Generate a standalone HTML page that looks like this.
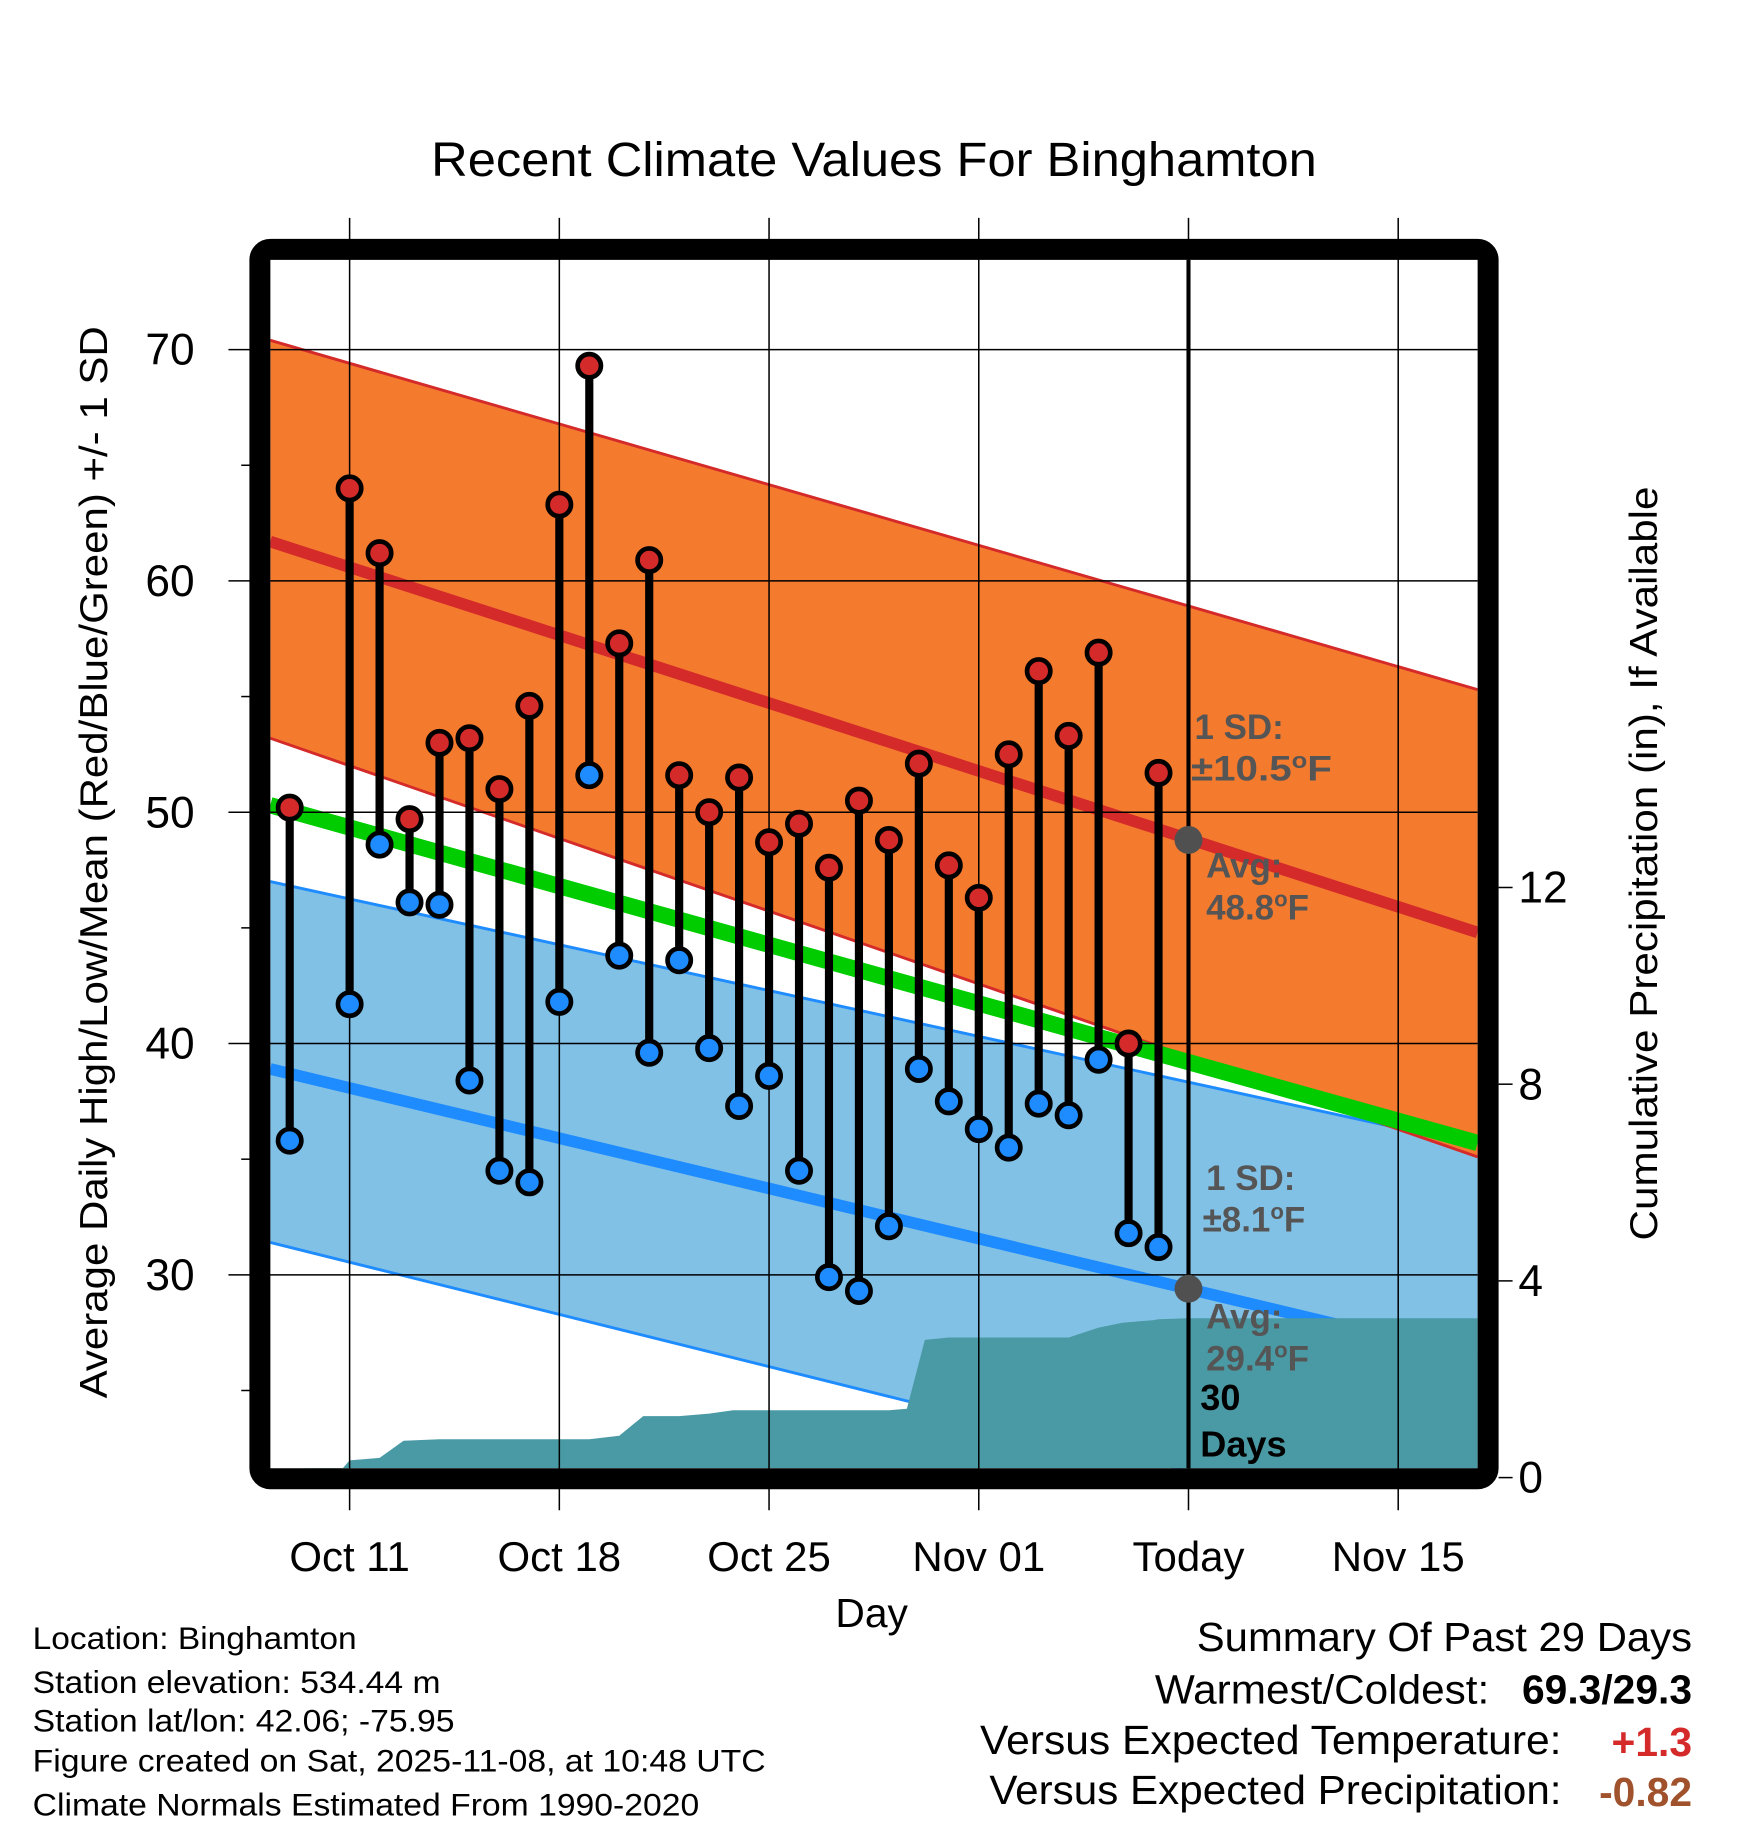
<!DOCTYPE html>
<html><head><meta charset="utf-8"><style>
html,body{margin:0;padding:0;background:#fff}
svg{display:block}
text{font-family:"Liberation Sans",sans-serif}
</style></head><body>
<svg id="chart" xmlns="http://www.w3.org/2000/svg" width="1748" height="1828" viewBox="0 0 1500 1568.7">
<text x="370" y="151" font-size="41" textLength="760" lengthAdjust="spacingAndGlyphs">Recent Climate Values For Binghamton</text>
<g id="bands"></g>
<g id="precip"></g>
<g id="grid"></g>
<g id="marks"></g>
<g id="ann">
<text x="1025" y="634" font-size="30" font-weight="bold" fill="#555">1 SD:</text>
<text x="1022" y="670" font-size="30" font-weight="bold" fill="#555" textLength="121" lengthAdjust="spacingAndGlyphs">±10.5<tspan dy="-11" font-size="19">o</tspan><tspan dy="11">F</tspan></text>
<text x="1035" y="753" font-size="30" font-weight="bold" fill="#555">Avg:</text>
<text x="1035" y="789" font-size="30" font-weight="bold" fill="#555">48.8<tspan dy="-11" font-size="19">o</tspan><tspan dy="11">F</tspan></text>
<text x="1035" y="1021" font-size="30" font-weight="bold" fill="#555">1 SD:</text>
<text x="1032" y="1057" font-size="30" font-weight="bold" fill="#555">±8.1<tspan dy="-11" font-size="19">o</tspan><tspan dy="11">F</tspan></text>
<text x="1035" y="1140" font-size="30" font-weight="bold" fill="#555">Avg:</text>
<text x="1035" y="1176" font-size="30" font-weight="bold" fill="#555">29.4<tspan dy="-11" font-size="19">o</tspan><tspan dy="11">F</tspan></text>
<text x="1030" y="1210" font-size="31" font-weight="bold" fill="#000">30</text>
<text x="1030" y="1250" font-size="31" font-weight="bold" fill="#000">Days</text>
</g>
<rect x="223" y="214" width="1054" height="1055" rx="9" fill="none" stroke="#000" stroke-width="18"/>
<g id="axes"></g>
<text transform="translate(92,740) rotate(-90)" font-size="33" text-anchor="middle" textLength="920" lengthAdjust="spacingAndGlyphs">Average Daily High/Low/Mean (Red/Blue/Green) +/- 1 SD</text>
<text transform="translate(1422,741) rotate(-90)" font-size="33" text-anchor="middle" textLength="647" lengthAdjust="spacingAndGlyphs">Cumulative Precipitation (in), If Available</text>
<text x="748" y="1396" font-size="35" text-anchor="middle">Day</text>
<g font-size="27">
<text x="28" y="1415" textLength="278" lengthAdjust="spacingAndGlyphs">Location: Binghamton</text>
<text x="28" y="1453" textLength="350" lengthAdjust="spacingAndGlyphs">Station elevation: 534.44 m</text>
<text x="28" y="1486" textLength="362" lengthAdjust="spacingAndGlyphs">Station lat/lon: 42.06; -75.95</text>
<text x="28" y="1520" textLength="629" lengthAdjust="spacingAndGlyphs">Figure created on Sat, 2025-11-08, at 10:48 UTC</text>
<text x="28" y="1558" textLength="572" lengthAdjust="spacingAndGlyphs">Climate Normals Estimated From 1990-2020</text>
</g>
<g font-size="35">
<text x="1027" y="1417" textLength="425" lengthAdjust="spacingAndGlyphs">Summary Of Past 29 Days</text>
<text x="991" y="1462" textLength="287" lengthAdjust="spacingAndGlyphs">Warmest/Coldest:</text>
<text x="1452" y="1462" text-anchor="end" font-weight="bold">69.3/29.3</text>
<text x="841" y="1505" textLength="499" lengthAdjust="spacingAndGlyphs">Versus Expected Temperature:</text>
<text x="1452" y="1507" text-anchor="end" font-weight="bold" fill="#d42a2a">+1.3</text>
<text x="849" y="1548" textLength="491" lengthAdjust="spacingAndGlyphs">Versus Expected Precipitation:</text>
<text x="1452" y="1550" text-anchor="end" font-weight="bold" fill="#a0522d">-0.82</text>
</g>
</svg>
<script>
// day offsets from Oct 11
const pointDays = [-2,0,1,2,3,4,5,6,7,8,9,10,11,12,13,14,15,16,17,18,19,20,21,22,23,24,25,26,27];
const highs = [50.2,64.0,61.2,49.7,53.0,53.2,51.0,54.6,63.3,69.3,57.3,60.9,51.6,50.0,51.5,48.7,49.5,47.6,50.5,48.8,52.1,47.7,46.3,52.5,56.1,53.3,56.9,40.0,51.7];
const lows = [35.8,41.7,48.6,46.1,46.0,38.4,34.5,34.0,41.8,51.6,43.8,39.6,43.6,39.8,37.3,38.6,34.5,29.9,29.3,32.1,38.9,37.5,36.3,35.5,37.4,36.9,39.3,31.8,31.2];
const precipDays = [-1.5,-0.5,0,1,1.8,3,8,9,9.8,11,12,12.8,14,18,18.6,19.2,20,24,25,25.8,26.8,27,28,37.65];
const precipVals = [0,0,0.35,0.4,0.75,0.78,0.78,0.85,1.25,1.25,1.3,1.37,1.37,1.37,1.4,2.8,2.85,2.85,3.05,3.15,3.2,3.22,3.24,3.24];
const edgeDays = [-2.65,37.65];
const redMean = [61.7,44.8];
const redUpper = [70.4,55.3];
const redLower = [53.2,35.1];
const greenMean = [50.3,35.7];
const blueMean = [38.9,26.4];
const blueUpper = [47.0,35.6];
const blueLower = [31.4,18.4];
const xTickDays = [0,7,14,21,28,35];
const xTickLabels = ["Oct 11","Oct 18","Oct 25","Nov 01","Today","Nov 15"];
const yTicks = [30,40,50,60,70];
const y2Ticks = [0,4,8,12];
const todayDay = 28, todayHigh = 48.8, todayLow = 29.4;

const NS="http://www.w3.org/2000/svg";
const X0=232,X1=1268,Y0=223,Y1=1260;
const xs=d=>300+25.71*d;
const ys=t=>300+(70-t)*19.85;
const yp=p=>1268-p*42.2;
function mk(tag,attrs,parent){const e=document.createElementNS(NS,tag);for(const k in attrs)e.setAttribute(k,attrs[k]);parent.appendChild(e);return e;}
const clip=mk('clipPath',{id:'pc'},document.getElementById('chart'));
mk('rect',{x:X0,y:Y0,width:X1-X0,height:Y1-Y0},clip);
const bands=document.getElementById('bands');bands.setAttribute('clip-path','url(#pc)');
function band(up,lo,fill,stroke,name){
  const p=`M${xs(edgeDays[0])},${ys(up[0])}L${xs(edgeDays[1])},${ys(up[1])}L${xs(edgeDays[1])},${ys(lo[1])}L${xs(edgeDays[0])},${ys(lo[0])}Z`;
  const e=mk('path',{d:p,fill:fill},bands);
  
  
  [up,lo].forEach(a=>{const l=mk('line',{x1:xs(edgeDays[0]),y1:ys(a[0]),x2:xs(edgeDays[1]),y2:ys(a[1]),stroke:stroke,'stroke-width':2.5},bands);
    
    });
}
band(blueUpper,blueLower,'#82c1e6','#1e8cff','low-sd-band');
band(redUpper,redLower,'#f47a2e','#d42a2a','high-sd-band');
function line(a,color,w,name){const l=mk('line',{x1:xs(edgeDays[0]),y1:ys(a[0]),x2:xs(edgeDays[1]),y2:ys(a[1]),stroke:color,'stroke-width':w},bands);
  
  }
line(redMean,'#d42a2a',10,'high-mean-line');
line(greenMean,'#00cc00',14,'mean-line');
line(blueMean,'#1e8cff',10,'low-mean-line');
const pg=document.getElementById('precip');pg.setAttribute('clip-path','url(#pc)');
let pd=`M${xs(precipDays[0])},${Y1}`;
precipDays.forEach((d,i)=>{pd+=`L${xs(d)},${yp(precipVals[i])}`;});
pd+=`L${xs(precipDays[precipDays.length-1])},${Y1}Z`;
const pe=mk('path',{d:pd,fill:'#4a9aa5'},pg);


const g=document.getElementById('grid');
xTickDays.forEach(d=>{const l=mk('line',{x1:xs(d),y1:187,x2:xs(d),y2:1296,stroke:'#000','stroke-width':1.3},g);
  
  });
yTicks.forEach(t=>{const l=mk('line',{x1:196,y1:ys(t),x2:X1,y2:ys(t),stroke:'#000','stroke-width':1.3},g);
  
  });
[25,35,45,55,65].forEach(t=>{const l=mk('line',{x1:207,y1:ys(t),x2:215,y2:ys(t),stroke:'#000','stroke-width':1.3},g);
  
  });
const tl=mk('line',{x1:xs(todayDay),y1:Y0,x2:xs(todayDay),y2:Y1,stroke:'#000','stroke-width':3.5},g);


const m=document.getElementById('marks');
pointDays.forEach((d,i)=>{
  const s=mk('line',{x1:xs(d),y1:ys(highs[i]),x2:xs(d),y2:ys(lows[i]),stroke:'#000','stroke-width':7},m);
  
  
});
pointDays.forEach((d,i)=>{
  const h=mk('circle',{cx:xs(d),cy:ys(highs[i]),r:10,fill:'#d42a2a',stroke:'#000','stroke-width':4},m);
  
  
  const l=mk('circle',{cx:xs(d),cy:ys(lows[i]),r:10,fill:'#1e8cff',stroke:'#000','stroke-width':4},m);
  
  
});
[todayHigh,todayLow].forEach(t=>{const c=mk('circle',{cx:xs(todayDay),cy:ys(t),r:12,fill:'#505050'},m);
  
  });
const ax=document.getElementById('axes');
yTicks.forEach(t=>{const e=mk('text',{x:167,y:ys(t)+13,'font-size':38,'text-anchor':'end'},ax);e.textContent=t;
  
  });
y2Ticks.forEach(p=>{const l=mk('line',{x1:1286,y1:yp(p),x2:1298,y2:yp(p),stroke:'#000','stroke-width':1.3},ax);
  
  
  const e=mk('text',{x:1303,y:yp(p)+13,'font-size':38},ax);e.textContent=p;
  
  });
xTickDays.forEach((d,i)=>{const e=mk('text',{x:xs(d),y:1348,'font-size':36,'text-anchor':'middle'},ax);e.textContent=xTickLabels[i];
  
  });
</script>
</body></html>
